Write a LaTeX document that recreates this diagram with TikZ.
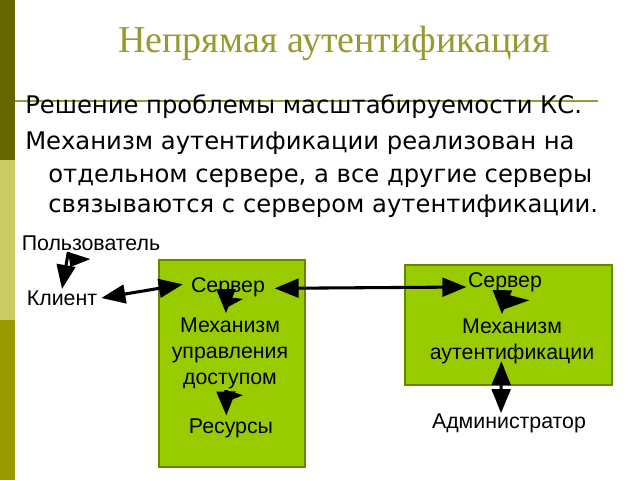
\documentclass[tikz,border=0pt]{standalone}
\usepackage{fontspec}
\setmainfont{Liberation Serif}
\setsansfont{Liberation Sans}
\newfontfamily\bodyfont{DejaVu Sans}
\usetikzlibrary{arrows.meta}
\definecolor{olivedark}{RGB}{102,102,0}
\definecolor{olivelight}{RGB}{204,204,102}
\definecolor{olivemid}{RGB}{153,153,0}
\definecolor{titlecol}{RGB}{153,153,51}
\definecolor{boxfill}{RGB}{153,204,0}
\definecolor{boxline}{RGB}{102,136,0}
\newcommand{\flagat}[4]{\fill (#1) -- ++(#2,#3) -- ++(-#2+2,#4) -- cycle;}
\begin{document}
\begin{tikzpicture}[x=0.75pt,y=-0.75pt,
    lbl/.style={font=\sffamily\fontsize{16}{18}\selectfont, inner sep=1pt},
    body/.style={anchor=base west, font=\bodyfont\fontsize{18.2}{21}\selectfont, inner sep=0pt},
    box/.style={draw=boxline, fill=boxfill, line width=0.8pt, inner sep=0pt},
    arr/.style={line width=2.3pt, -{Triangle[length=18pt,width=14pt]}},
    darr/.style={line width=2.3pt, {Triangle[length=18pt,width=14pt]}-{Triangle[length=18pt,width=14pt]}}]
    \useasboundingbox (0,0) rectangle (640,480);
    % side bar
    \fill[olivedark] (0,0) rectangle (15,160);
    \fill[olivelight] (0,160) rectangle (15,320);
    \fill[olivemid] (0,320) rectangle (15,480);
    % title
    \node[font=\fontsize{28.5}{32}\selectfont, text=titlecol] (title) at (334,43) {Непрямая аутентификация};
    \draw[titlecol, line width=1pt] (15,101) coordinate (tl) -- (598,101) coordinate (tr);
    \node[body] (l1) at (25,113) {Решение проблемы масштабируемости КС.};
    \node[body] (l2) at (25,149) {Механизм аутентификации реализован на};
    \node[body] (l3) at (48,182) {отдельном сервере, а все другие серверы};
    \node[body] (l4) at (48,212) {связываются с сервером аутентификации.};
    % boxes
    \node[box, minimum width=109.5pt, minimum height=155.25pt] (boxA) at (232,363.5) {};
    \node[box, minimum width=155.25pt, minimum height=90pt] (boxB) at (508.5,325) {};
    % labels
    \node[lbl] (user) at (91,243) {Пользователь};
    \node[lbl] (client) at (62,298) {Клиент};
    \node[lbl] (srvA) at (228,287) {Сервер};
    \node[lbl, align=center, font=\sffamily\fontsize{16}{19.5}\selectfont] (mechA) at (230,353) {Механизм\\управления\\доступом};
    \node[lbl] (resA) at (231,428) {Ресурсы};
    \node[lbl] (srvB) at (505,282) {Сервер};
    \node[lbl, align=center, font=\sffamily\fontsize{16}{19.5}\selectfont] (mechB) at (512,341) {Механизм\\аутентификации};
    \node[lbl] (admin) at (509,423) {Администратор};
    % connectors
    \draw[arr] ([xshift=-17pt]user.south) coordinate (u0) -- ([xshift=0pt]client.north);
    \draw[darr] ([xshift=2pt]client.east) -- ([xshift=-5pt,yshift=2pt]srvA.west);
    \draw[darr] ([xshift=6pt,yshift=-1pt]srvA.east) -- (srvA.east -| srvB.west);
    \draw[arr] ([xshift=-1.5pt,yshift=1pt]srvA.south) coordinate (a0) -- ([xshift=-3pt,yshift=2pt]mechA.north);
    \draw[arr] ([xshift=-3pt]mechA.south) coordinate (a1) -- ([xshift=-3.5pt,yshift=1pt]resA.north);
    \draw[arr] ([xshift=-2pt]srvB.south) coordinate (b0) -- ([xshift=-7.5pt,yshift=2pt]mechB.north);
    \draw[darr] ([xshift=-8pt,yshift=3pt]mechB.south) -- ([xshift=-6pt,yshift=-1pt]admin.north);
    % flags
    \flagat{u0}{22}{7}{8}
    \flagat{a0}{17}{2}{8}
    \flagat{a1}{17}{5}{6}
    \flagat{b0}{27}{7}{9}
\end{tikzpicture}
\end{document}
